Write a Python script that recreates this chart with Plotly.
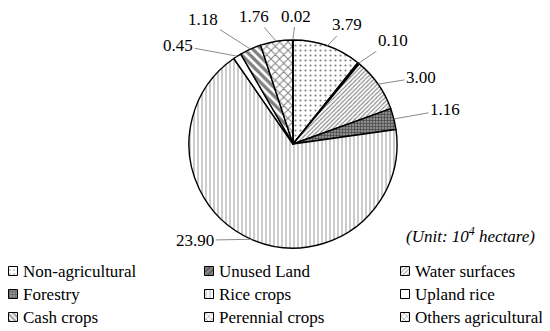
import math
import plotly.graph_objects as go

categories = ["Non-agricultural", "Unused Land", "Water surfaces", "Forestry",
              "Rice crops", "Upland rice", "Cash crops", "Perennial crops",
              "Others agricultural"]
values = [3.79, 0.10, 3.00, 1.16, 23.90, 0.45, 1.18, 1.76, 0.02]

# styling (not data)
shapes = [".", "/", "/", "+", "|", "", "\\", "x", "x"]
bgcolors = ["white", "black", "white", "#8c8c8c", "white", "white", "white", "white", "white"]
solidity = [0.15, 0.9, 0.35, 0.4, 0.2, 0.2, 0.55, 0.3, 0.3]
sizes = [5, 4, 3, 3, 4, 6, 6, 6, 6]
# label offsets (px) from the slice edge, like hand-placed data labels
label_dx = [20, 34, 43, 51, -56, -59, -47, -22, 3]
label_dy = [-21, -23, -7, -9, 1, -11, -30, -25, -24]

FONT = "Liberation Serif"
W, H = 542, 323          # page body has an 8px margin
CX, CY, R = 285, 136, 104
# legend grid (px, figure coordinates)
LEG_COL_X = [0, 196, 392]
LEG_ROW_Y = [263, 286, 309]
SW = 9                   # swatch size


def px_x(x):
    return x / W


def py(y):
    return (H - y) / H


fig = go.Figure()

fig.add_trace(go.Pie(
    labels=categories,
    values=values,
    sort=False,
    direction="clockwise",
    rotation=0,
    textinfo="none",
    marker=dict(
        colors=bgcolors,
        line=dict(color="black", width=1.4),
        pattern=dict(shape=shapes, fgcolor="black", solidity=solidity, size=sizes,
                     fillmode="overlay"),
    ),
    domain=dict(x=[(CX - R) / W, (CX + R) / W], y=[py(CY + R), py(CY - R)]),
    hoverinfo="label+value",
    showlegend=False,
))

# data labels with leader lines
total = sum(values)
cum = 0.0
for v, dx, dy in zip(values, label_dx, label_dy):
    theta = 2 * math.pi * (cum + v / 2) / total
    cum += v
    ex = CX + R * math.sin(theta)
    ey = CY - R * math.cos(theta)
    fig.add_annotation(
        x=px_x(ex), y=py(ey), xref="paper", yref="paper",
        text=f"{v:.2f}", showarrow=True, arrowhead=0, arrowwidth=1,
        arrowcolor="#8a8a8a", standoff=0, ax=dx, ay=dy,
        font=dict(family=FONT, size=17, color="black"),
    )

# legend: patterned swatches (bars on a hidden pixel axis) + labels
sw_x, sw_base = [], []
for i, name in enumerate(categories):
    col, row = i % 3, i // 3
    sw_x.append(LEG_COL_X[col] + SW / 2 + 0.5)
    sw_base.append(LEG_ROW_Y[row] - SW / 2)
    fig.add_annotation(
        x=px_x(LEG_COL_X[col] + SW + 4), y=py(LEG_ROW_Y[row]),
        xref="paper", yref="paper", xanchor="left", yanchor="middle",
        text=name, showarrow=False,
        font=dict(family=FONT, size=17, color="black"),
    )

fig.add_trace(go.Bar(
    x=sw_x, y=[SW] * len(categories), base=sw_base, width=SW,
    marker=dict(
        color=bgcolors,
        line=dict(color="black", width=1),
        pattern=dict(shape=shapes, fgcolor="black", solidity=solidity,
                     size=[min(s, 4) for s in sizes], fillmode="overlay"),
    ),
    hoverinfo="skip", showlegend=False,
))

fig.add_annotation(
    text="<i>(Unit: 10<sup>4</sup> hectare)</i>",
    x=px_x(529), y=py(227), xref="paper", yref="paper",
    xanchor="right", yanchor="middle", showarrow=False,
    font=dict(family=FONT, size=17, color="black"),
)

fig.update_layout(
    width=W, height=H,
    margin=dict(l=0, r=0, t=0, b=0, autoexpand=False),
    paper_bgcolor="white", plot_bgcolor="white",
    font=dict(family=FONT, size=17, color="black"),
    showlegend=False,
    xaxis=dict(range=[0, W], visible=False, fixedrange=True),
    yaxis=dict(range=[H, 0], visible=False, fixedrange=True),
)

fig.write_html("out.html")
